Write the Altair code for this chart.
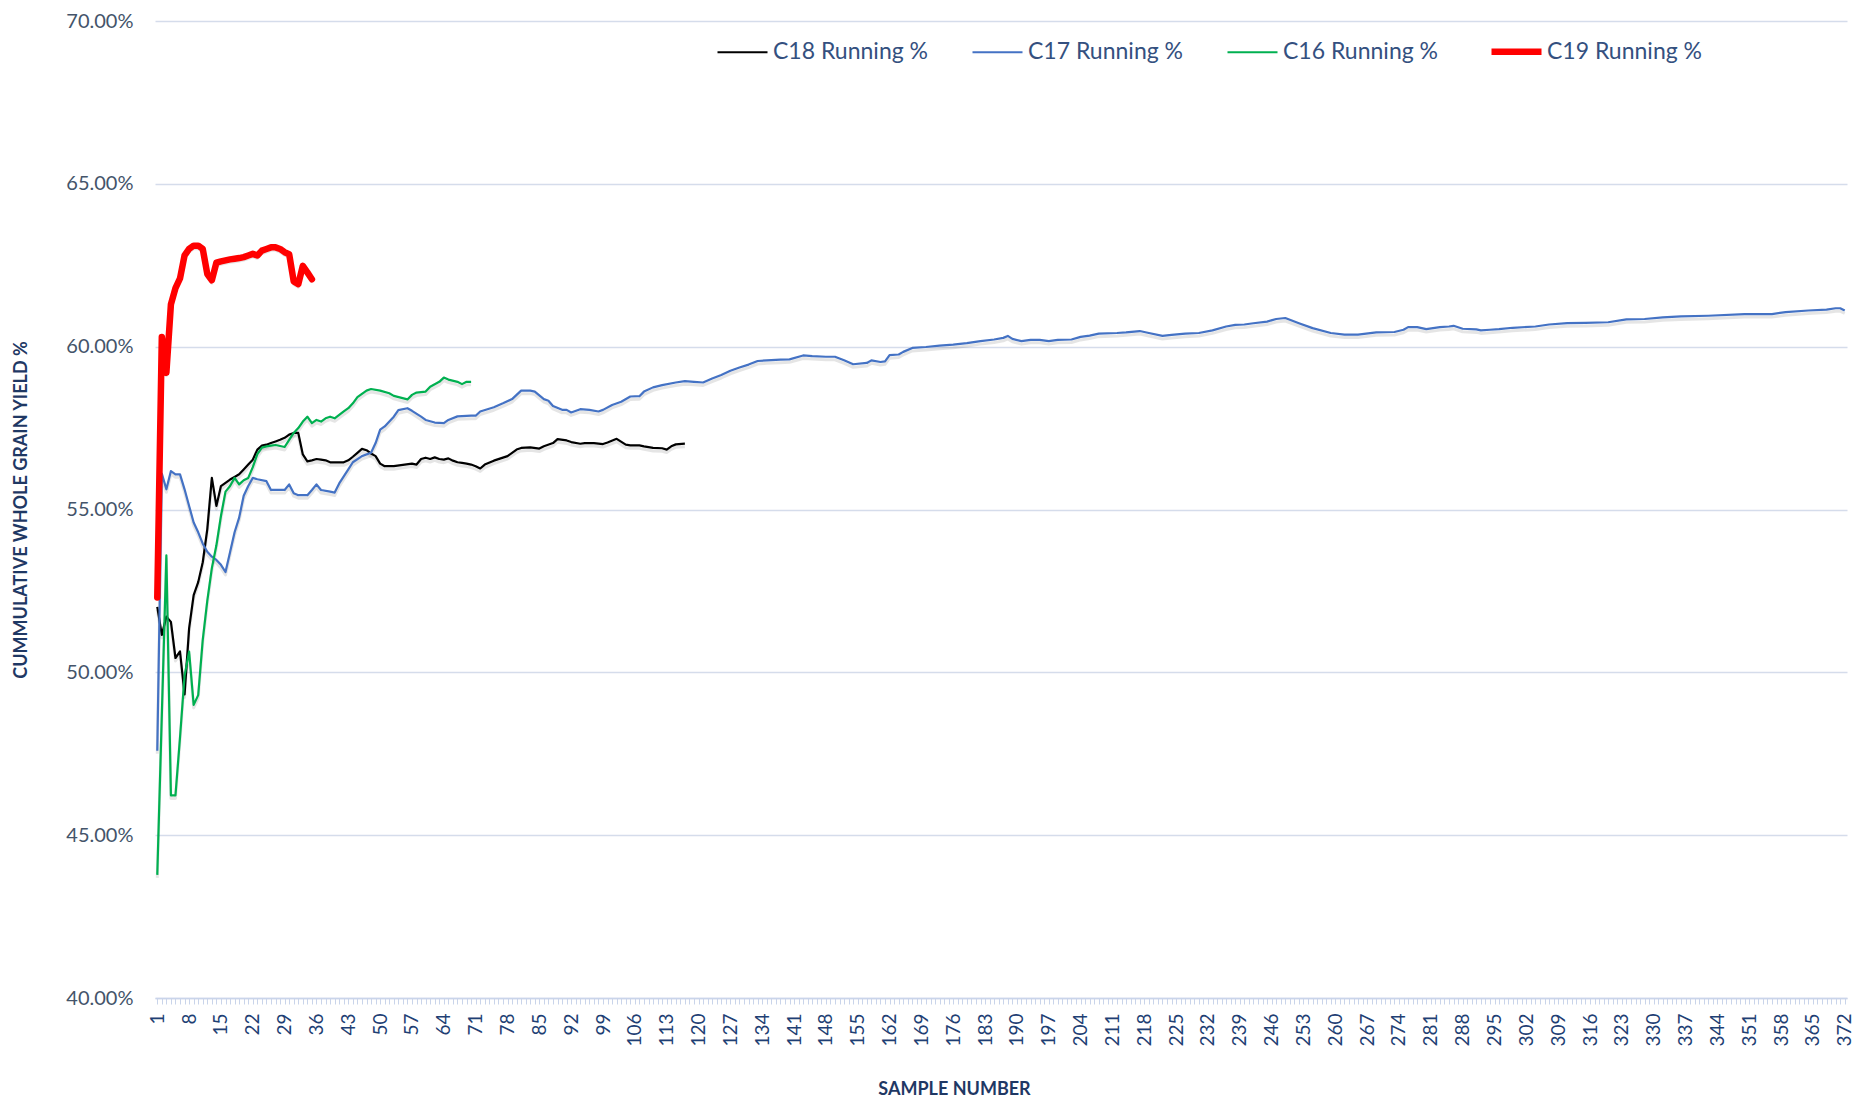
import altair as alt
import pandas as pd

# ---------------- data ----------------
series_names = ["C18 Running %", "C17 Running %", "C16 Running %", "C19 Running %"]
series_colors = ["#000000", "#4472C4", "#00B050", "#FF0000"]

c19_x = list(range(1, 36))
c19_y = [52.3, 60.3, 59.2, 61.3, 61.8, 62.1, 62.8, 63.0, 63.1, 63.1,
         63.0, 62.23, 62.04, 62.58, 62.62, 62.65, 62.68, 62.7, 62.72, 62.75,
         62.8, 62.85, 62.8, 62.95, 63.0, 63.05, 63.05, 63.0, 62.9, 62.84,
         62.0, 61.92, 62.48, 62.28, 62.07]

c18_x = [1, 2, 3, 4, 5, 6, 7, 8, 9, 10, 11, 12, 13, 14, 15, 16, 17, 18, 19, 20,
         21, 22, 23, 24, 25, 26, 27, 28, 29, 30, 31, 32, 33, 34, 35, 36, 37, 38, 39, 40,
         42, 43, 44, 45, 46, 47, 48, 49, 50, 51, 53, 55, 57, 58, 59, 60, 61, 62, 63, 64,
         65, 66, 67, 68, 69, 70, 71, 72, 73, 75, 78, 80, 81, 83, 85, 86, 88, 89, 91, 92,
         94, 95, 97, 99, 100, 102, 104, 105, 107, 108, 110, 112, 113, 114, 115, 117]
c18_y = [52.01, 51.15, 51.71, 51.55, 50.44, 50.64, 49.32, 51.35, 52.37, 52.77,
         53.38, 54.4, 55.97, 55.11, 55.72, 55.82, 55.92, 56.0, 56.08, 56.23,
         56.38, 56.53, 56.84, 56.96, 56.99, 57.04, 57.09, 57.14, 57.2, 57.3,
         57.35, 57.35, 56.69, 56.48, 56.51, 56.55, 56.53, 56.51, 56.45, 56.45,
         56.45, 56.51, 56.62, 56.74, 56.86, 56.82, 56.72, 56.64, 56.41, 56.33,
         56.33, 56.37, 56.41, 56.38, 56.55, 56.59, 56.55, 56.6, 56.55, 56.53,
         56.57, 56.5, 56.45, 56.43, 56.41, 56.38, 56.33, 56.26, 56.38, 56.5,
         56.64, 56.84, 56.89, 56.91, 56.87, 56.94, 57.04, 57.16, 57.12, 57.07,
         57.02, 57.04, 57.04, 57.01, 57.06, 57.17, 56.99, 56.97, 56.97, 56.94,
         56.89, 56.88, 56.84, 56.94, 57.0, 57.02]

c16_x = [1, 3, 4, 5, 6, 7, 8, 9, 10, 11, 12, 13, 14, 15, 16, 17, 18, 19, 20, 21,
         22, 23, 24, 25, 26, 27, 28, 29, 30, 31, 32, 33, 34, 35, 36, 37, 38, 39, 40, 42,
         43, 44, 45, 47, 48, 50, 52, 53, 56, 57, 58, 60, 61, 63, 64, 65, 67, 68, 69, 70]
c16_y = [43.78, 53.59, 46.22, 46.22, 48.0, 49.9, 50.64, 49.0, 49.3, 51.0,
         52.2, 53.2, 53.9, 54.8, 55.55, 55.72, 55.97, 55.77, 55.9, 55.97,
         56.3, 56.7, 56.9, 56.94, 56.96, 56.98, 56.95, 56.92, 57.14, 57.35,
         57.5, 57.7, 57.85, 57.65, 57.75, 57.7, 57.8, 57.85, 57.8, 58.01,
         58.11, 58.26, 58.45, 58.65, 58.7, 58.65, 58.57, 58.49, 58.38, 58.52,
         58.59, 58.62, 58.77, 58.92, 59.05, 58.99, 58.92, 58.85, 58.92, 58.92]

c17_x = [1, 2, 3, 4, 5, 6, 7, 8, 9, 10, 11, 12, 13, 14, 15, 16, 17, 18, 19, 20,
         21, 22, 23, 25, 26, 28, 29, 30, 31, 32, 34, 35, 36, 37, 39, 40, 41, 43, 44, 46,
         48, 49, 50, 51, 53, 54, 56, 57, 59, 60, 62, 64, 65, 67, 70, 71, 72, 75, 77, 79,
         80, 81, 83, 84, 86, 87, 88, 90, 91, 92, 94, 96, 98, 99, 101, 103, 105, 107, 108, 110,
         112, 115, 117, 119, 121, 123, 125, 127, 129, 131, 133, 135, 138, 140, 143, 145, 148, 150, 152, 154,
         157, 158, 160, 161, 162, 164, 165, 167, 170, 173, 176, 179, 182, 185, 187, 188, 189, 191, 193, 195,
         197, 199, 202, 204, 206, 208, 212, 214, 217, 219, 222, 224, 227, 230, 233, 236, 238, 240, 242, 245,
         247, 249, 252, 255, 259, 262, 265, 269, 273, 275, 276, 278, 280, 283, 285, 286, 288, 291, 292, 294,
         296, 299, 304, 307, 311, 315, 320, 324, 328, 332, 336, 342, 350, 356, 359, 364, 368, 370, 371, 372]
c17_y = [47.59, 56.1, 55.62, 56.18, 56.08, 56.08, 55.62, 55.11, 54.6, 54.3,
         53.95, 53.7, 53.55, 53.45, 53.3, 53.08, 53.69, 54.3, 54.75, 55.42,
         55.72, 55.97, 55.93, 55.87, 55.6, 55.6, 55.6, 55.77, 55.5, 55.44,
         55.44, 55.6, 55.77, 55.6, 55.55, 55.52, 55.8, 56.23, 56.45, 56.64,
         56.74, 57.04, 57.45, 57.55, 57.85, 58.05, 58.11, 58.03, 57.85, 57.75,
         57.67, 57.65, 57.75, 57.86, 57.88, 57.88, 58.01, 58.14, 58.26, 58.39,
         58.52, 58.65, 58.65, 58.62, 58.39, 58.34, 58.18, 58.06, 58.06, 57.98,
         58.08, 58.06, 58.01, 58.06, 58.21, 58.31, 58.47, 58.48, 58.62, 58.75,
         58.82, 58.9, 58.94, 58.92, 58.9, 59.02, 59.13, 59.26, 59.36, 59.45,
         59.56, 59.58, 59.6, 59.61, 59.73, 59.71, 59.69, 59.69, 59.58, 59.46,
         59.5, 59.58, 59.53, 59.55, 59.74, 59.76, 59.84, 59.96, 59.99, 60.03,
         60.06, 60.11, 60.17, 60.22, 60.27, 60.33, 60.24, 60.17, 60.21, 60.21,
         60.17, 60.21, 60.22, 60.3, 60.34, 60.4, 60.42, 60.44, 60.48, 60.42,
         60.33, 60.36, 60.4, 60.42, 60.5, 60.62, 60.67, 60.68, 60.72, 60.77,
         60.85, 60.88, 60.72, 60.57, 60.42, 60.37, 60.37, 60.44, 60.45, 60.52,
         60.6, 60.6, 60.54, 60.6, 60.62, 60.64, 60.55, 60.53, 60.5, 60.52,
         60.54, 60.58, 60.62, 60.68, 60.72, 60.73, 60.75, 60.84, 60.85, 60.9,
         60.93, 60.95, 61.0, 61.0, 61.06, 61.11, 61.14, 61.18, 61.18, 61.11]

x_tick_values = list(range(1, 373))
y_tick_values = [40, 45, 50, 55, 60, 65, 70]

# ---------------- table ----------------
rows = []
for name, xs, ys in [("C18 Running %", c18_x, c18_y),
                     ("C17 Running %", c17_x, c17_y),
                     ("C16 Running %", c16_x, c16_y),
                     ("C19 Running %", c19_x, c19_y)]:
    for xv, yv in zip(xs, ys):
        rows.append({"series": name, "sample": xv, "pct": yv})
df = pd.DataFrame(rows)

FONT = "Lato"
PLOT_H = 977
THIN_W = 2.2
THICK_W = 6.5

x_enc = alt.X(
    "sample:Q",
    scale=alt.Scale(domain=[0.5, 372.5], nice=False, zero=False),
    axis=alt.Axis(
        values=x_tick_values,
        format="d",
        labelExpr="(datum.value - 1) % 7 == 0 ? datum.label : ''",
        labelAngle=270,
        labelOverlap=False,
        labelFlush=False,
        labelFont=FONT,
        labelFontSize=19,
        labelColor="#1F3F74",
        labelPadding=9,
        grid=False,
        domainColor="#C9D4EA",
        domainWidth=1.5,
        tickColor="#C9D4EA",
        tickSize=6,
        title="SAMPLE NUMBER",
        titleFont=FONT,
        titleFontSize=18,
        titleFontWeight="bold",
        titleColor="#1F3864",
        titleX=799,
        titleY=100,
        titleAlign="center",
        titleBaseline="bottom",
    ),
)

y_enc = alt.Y(
    "pct:Q",
    scale=alt.Scale(domain=[40, 70], nice=False, zero=False),
    axis=alt.Axis(
        values=y_tick_values,
        labelExpr="format(datum.value, '.2f') + '%'",
        labelFont=FONT,
        labelFontSize=20,
        labelColor="#44546A",
        labelPadding=22,
        ticks=False,
        domain=False,
        grid=True,
        gridColor="#D5DCEB",
        gridWidth=1.5,
        title="CUMMULATIVE WHOLE GRAIN YIELD %",
        titleFont=FONT,
        titleFontSize=18,
        titleFontWeight="bold",
        titleColor="#1F3864",
        titleX=-125,
        titleY=PLOT_H / 2,
        titleAngle=270,
        titleAlign="center",
        titleBaseline="bottom",
    ),
)

width_expr = "datum.value === 'C19 Running %' ? " + str(THICK_W) + " : " + str(THIN_W)

legend = alt.Legend(
    title=None,
    orient="none",
    legendX=576,
    legendY=19,
    direction="horizontal",
    symbolType="stroke",
    symbolSize=2500,
    symbolStrokeWidth=alt.ExprRef(expr=width_expr),
    labelFont=FONT,
    labelFontSize=23,
    labelColor="#34507F",
    labelOffset=19,
    columnPadding=40,
    labelLimit=400,
)

color_scale = alt.Scale(domain=series_names, range=series_colors)

base = alt.Chart(df).encode(x=x_enc, y=y_enc, order=alt.Order("sample:Q"))

shadow = base.mark_line(color="#000000", opacity=0.10, yOffset=3, strokeWidth=3,
                        strokeJoin="round").encode(detail="series:N")

thin = base.transform_filter(alt.datum.series != "C19 Running %").mark_line(
    strokeJoin="round", strokeWidth=THIN_W).encode(
    color=alt.Color("series:N", scale=color_scale, legend=legend),
)

red = base.transform_filter(alt.datum.series == "C19 Running %").mark_line(
    strokeJoin="round", strokeCap="round", strokeWidth=THICK_W).encode(
    color=alt.Color("series:N", scale=color_scale, legend=legend),
)

chart = alt.layer(shadow, thin, red).properties(
    width=1692,
    height=PLOT_H,
    autosize=alt.AutoSizeParams(type="none"),
    padding={"left": 147, "top": 13, "right": 8, "bottom": 100},
    background="white",
).configure_view(stroke=None)

chart.save("out.html", embed_options={"renderer": "svg", "actions": False})
